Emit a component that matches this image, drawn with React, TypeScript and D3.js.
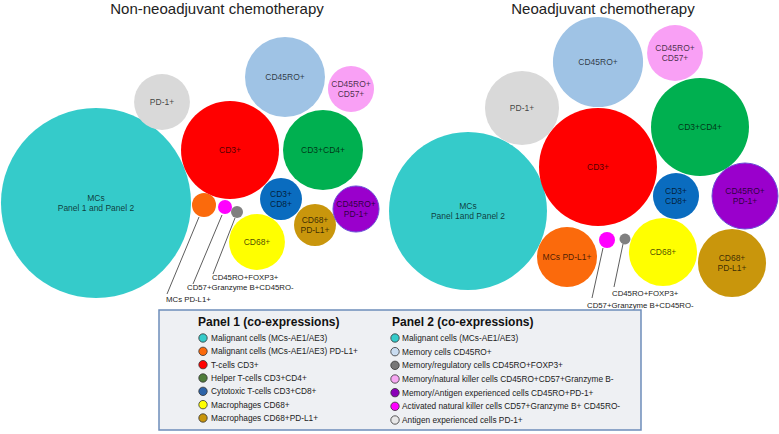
import React from 'react';
import * as d3 from 'd3';

// ---------- data ----------
const CELL_TYPES = [
  'MCs', 'MCs PD-L1+', 'CD3+', 'CD3+CD4+', 'CD3+CD8+', 'CD68+', 'CD68+PD-L1+',
  'CD45RO+', 'CD45RO+FOXP3+', 'CD45RO+CD57+', 'CD45RO+PD-1+', 'CD57+Granzyme B+CD45RO-', 'PD-1+',
];
// relative abundance (bubble area)
const NON_NEO_VALUES = [90.3, 1.44, 24, 16, 4.4, 7.8, 4.4, 16, 0.36, 5.3, 5.3, 0.49, 7.8];
const NEO_VALUES = [62.4, 9, 34.8, 24, 5.3, 11.6, 11.6, 20.3, 0.3, 7.8, 10.9, 0.64, 13.7];

const NON_NEO_LABELS = [
  ['MCs', 'Panel 1 and  Panel 2'], [], ['CD3+'], ['CD3+CD4+'], ['CD3+', 'CD8+'], ['CD68+'],
  ['CD68+', 'PD-L1+'], ['CD45RO+'], [], ['CD45RO+', 'CD57+'], ['CD45RO+', 'PD-1+'], [], ['PD-1+'],
];
const NEO_LABELS = [
  ['MCs', 'Panel 1and Panel 2'], ['MCs PD-L1+'], ['CD3+'], ['CD3+CD4+'], ['CD3+', 'CD8+'], ['CD68+'],
  ['CD68+', 'PD-L1+'], ['CD45RO+'], [], ['CD45RO+', 'CD57+'], ['CD45RO+', 'PD-1+'], [], ['PD-1+'],
];

const PANEL1_ITEMS = [
  'Malignant cells (MCs-AE1/AE3)', 'Malignant cells (MCs-AE1/AE3) PD-L1+', 'T-cells CD3+',
  'Helper T-cells CD3+CD4+', 'Cytotoxic T-cells CD3+CD8+', 'Macrophages CD68+', 'Macrophages CD68+PD-L1+',
];
const PANEL2_ITEMS = [
  'Malignant cells (MCs-AE1/AE3)', 'Memory cells CD45RO+', 'Memory/regulatory cells CD45RO+FOXP3+',
  'Memory/natural killer cells CD45RO+CD57+Granzyme B-', 'Memory/Antigen experienced cells CD45RO+PD-1+',
  'Activated natural killer cells CD57+Granzyme B+ CD45RO-', 'Antigen experienced cells PD-1+',
];

// ---------- styles ----------
const COLORS = [
  '#35cbca', '#fb6a0c', '#ff0000', '#00b050', '#0a6cbf', '#ffff00', '#c9960c',
  '#9fc3e5', '#808080', '#f9a0f5', '#9a00cc', '#ff00ff', '#d9d9d9',
];
const PANEL1_COLORS = ['#35cbca', '#fb6a0c', '#ff0000', '#4f7d3b', '#2d64a8', '#ffff00', '#c9960c'];
const PANEL2_COLORS = ['#35cbca', '#c9dcf0', '#777777', '#f7a8f3', '#8a00b8', '#ff00ff', '#e8e8e8'];

// ---------- layout (pixel anchors of the hand-arranged bubble clusters) ----------
const NON_NEO_CENTERS = [
  [96, 203], [204, 205], [230, 150], [323, 150], [281, 199], [257, 242], [315, 225],
  [285, 77], [237, 212], [351, 89], [356, 209], [225, 207], [162, 102],
];
const NEO_CENTERS = [
  [468, 211], [567, 257], [598, 167], [700, 127], [676, 196], [663, 252], [732, 263],
  [598, 62], [625, 239], [675, 53], [745, 196], [607, 240], [522, 108],
];
const NON_NEO_CALLOUTS = [
  { idx: 8, from: [235, 218], to: [213, 274], text: [212, 280] },
  { idx: 11, from: [222, 215], to: [193, 284], text: [187, 290] },
  { idx: 1, from: [199, 217], to: [167, 294], text: [166, 302] },
];
const NEO_CALLOUTS = [
  { idx: 8, from: [623, 244], to: [614, 287], text: [612, 296] },
  { idx: 11, from: [603, 248], to: [592, 298], text: [587, 308] },
];

const FONT = '"Liberation Sans", Arial, Helvetica, sans-serif';

const rScale = d3.scaleSqrt().domain([0, 100]).range([0, 100]);

function Cluster({ values, centers, labels, callouts, title, titleX, titleY }) {
  const nodes = values.map((v, i) => ({
    i, v, x: centers[i][0], y: centers[i][1], r: rScale(v), color: COLORS[i], lines: labels[i],
  }));
  return (
    <g>
      <text x={titleX} y={titleY} textAnchor="middle" fontSize={15} fill="#222" fontFamily={FONT}>{title}</text>
      {nodes.map((n) => (
        <circle key={'c' + n.i} cx={n.x} cy={n.y} r={n.r} fill={n.color}
          stroke={n.i === 10 ? '#6b4fd8' : 'none'} strokeWidth={n.i === 10 ? 1 : 0} />
      ))}
      {nodes.map((n) => (
        <text key={'t' + n.i} x={n.x} textAnchor="middle" fontSize={8.5} fontFamily={FONT}
          fill="#000" fillOpacity={0.72}>
          {n.lines.map((l, k) => (
            <tspan key={k} x={n.x} y={n.y + 3 + (k - (n.lines.length - 1) / 2) * 10}>{l}</tspan>
          ))}
        </text>
      ))}
      {callouts.map((c, k) => (
        <g key={'a' + k}>
          <line x1={c.from[0]} y1={c.from[1]} x2={c.to[0]} y2={c.to[1]} stroke="#333" strokeWidth={0.8} />
          <text x={c.text[0]} y={c.text[1]} fontSize={7.8} fontFamily={FONT} fill="#222">{CELL_TYPES[c.idx]}</text>
        </g>
      ))}
    </g>
  );
}

function Legend() {
  const y1 = d3.scalePoint().domain(d3.range(PANEL1_ITEMS.length)).range([338, 418]);
  const y2 = d3.scalePoint().domain(d3.range(PANEL2_ITEMS.length)).range([338, 420]);
  return (
    <g fontFamily={FONT}>
      <rect x={159} y={310} width={482} height={120} fill="#eef0f3" stroke="#6d8dba" strokeWidth={1.5} />
      <text x={198} y={326} fontSize={12} fontWeight="bold" fill="#111">Panel 1 (co-expressions)</text>
      <text x={392} y={326} fontSize={12} fontWeight="bold" fill="#111">Panel 2 (co-expressions)</text>
      {PANEL1_ITEMS.map((t, i) => (
        <g key={'p1' + i}>
          <circle cx={203} cy={y1(i)} r={4.2} fill={PANEL1_COLORS[i]} stroke="#333" strokeWidth={0.8} />
          <text x={211} y={y1(i) + 3} fontSize={8.3} fill="#222">{t}</text>
        </g>
      ))}
      {PANEL2_ITEMS.map((t, i) => (
        <g key={'p2' + i}>
          <circle cx={395} cy={y2(i)} r={4.2} fill={PANEL2_COLORS[i]} stroke="#333" strokeWidth={0.8} />
          <text x={402} y={y2(i) + 3} fontSize={8.3} fill="#222">{t}</text>
        </g>
      ))}
    </g>
  );
}

export default function App() {
  return (
    <svg width={779} height={434} style={{ position: 'absolute', left: 0, top: 0, background: '#fff' }}>
      <rect x={0} y={0} width={779} height={434} fill="#fff" />
      <Cluster values={NON_NEO_VALUES} centers={NON_NEO_CENTERS} labels={NON_NEO_LABELS}
        callouts={NON_NEO_CALLOUTS} title="Non-neoadjuvant chemotherapy" titleX={217} titleY={14} />
      <Cluster values={NEO_VALUES} centers={NEO_CENTERS} labels={NEO_LABELS}
        callouts={NEO_CALLOUTS} title="Neoadjuvant chemotherapy" titleX={603} titleY={14} />
      <Legend />
    </svg>
  );
}
